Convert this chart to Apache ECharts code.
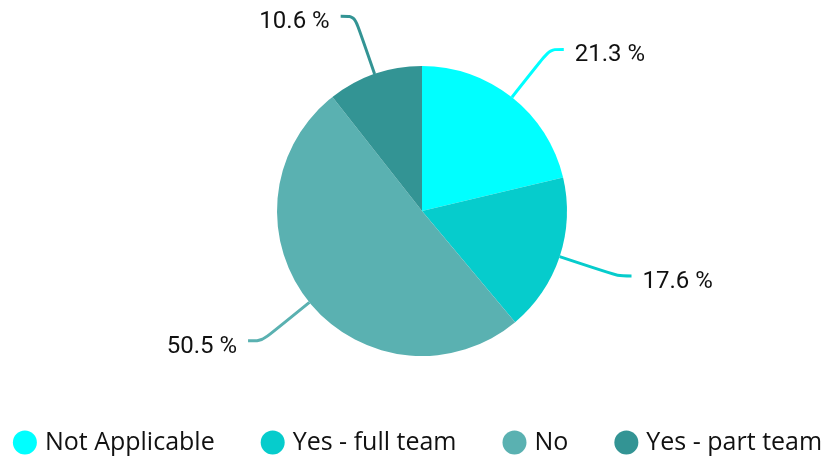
<!DOCTYPE html>
<html>
<head>
<meta charset="utf-8">
<script src="https://cdn.jsdelivr.net/npm/echarts@6/dist/echarts.min.js"></script>
<style>
  html, body { margin: 0; padding: 0; background: #fff; }
  #chart { width: 835px; height: 462px; }
</style>
</head>
<body>
<div id="chart"></div>
<script>
// Answer categories and their shares (percent)
const categories = ['Not Applicable', 'Yes - full team', 'No', 'Yes - part team'];
const shares = [21.3, 17.6, 50.5, 10.6];
const colors = ['#00FFFF', '#06CCCC', '#5AB1B1', '#339494'];

const chart = echarts.init(document.getElementById('chart'));
const labelFont = 'Roboto, "Noto Sans", sans-serif';
const legendFont = '"Open Sans", Roboto, sans-serif';

chart.setOption({
  animation: false,
  color: colors,
  legend: {
    bottom: 2,
    left: 'center',
    icon: 'circle',
    itemWidth: 24,
    itemHeight: 24,
    itemGap: 46,
    textStyle: { fontFamily: legendFont, fontSize: 25, color: '#111', padding: [0, 0, 0, 3] },
    data: categories
  },
  series: [{
    type: 'pie',
    center: [422, 211],
    radius: [0, 145],
    startAngle: 90,
    clockwise: true,
    data: categories.map((name, i) => ({ name, value: shares[i] })),
    label: {
      show: true,
      formatter: '{v|{c} %}',
      distanceToLabelLine: 11,
      rich: {
        v: {
          fontFamily: labelFont,
          fontSize: 24,
          color: '#111',
          lineHeight: 36,
          verticalAlign: 'bottom'
        }
      }
    },
    labelLine: {
      show: true,
      length: 61,
      length2: 14,
      smooth: 0.3,
      lineStyle: { width: 3 }
    },
    itemStyle: { borderWidth: 0 }
  }]
});
</script>
</body>
</html>
